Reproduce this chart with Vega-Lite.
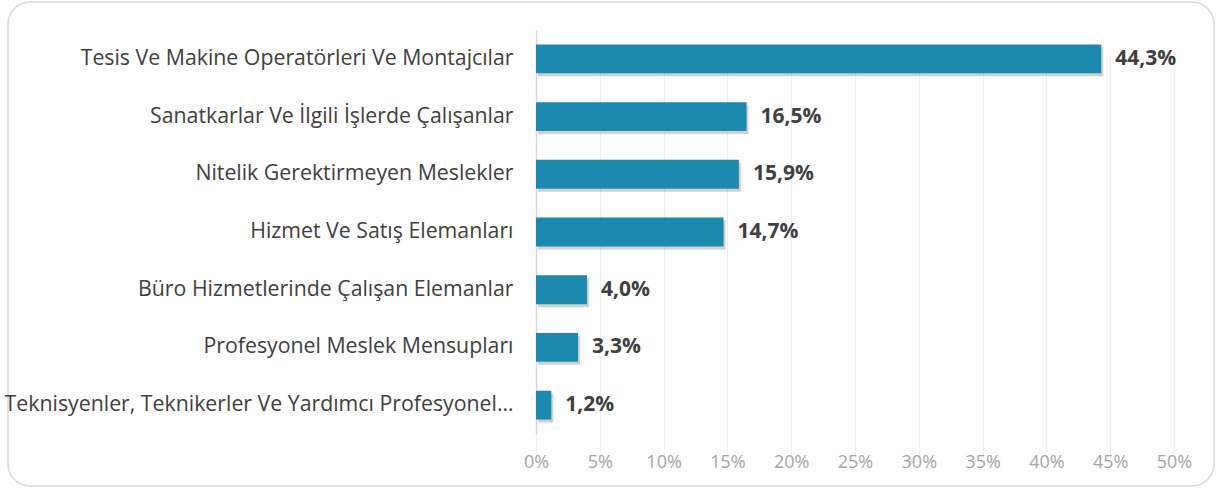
{
  "$schema": "https://vega.github.io/schema/vega-lite/v6.json",
  "width": 1206,
  "height": 484,
  "autosize": {"type": "none"},
  "padding": {"left": 8, "top": 2, "right": 9, "bottom": 2},
  "background": "white",
  "config": {
    "locale": {"number": {"decimal": ",", "thousands": ".", "grouping": [3], "currency": ["", " TL"]}},
    "view": {"stroke": "#d9d9d9", "strokeWidth": 1.5, "cornerRadius": 22},
    "font": "Open Sans"
  },
  "data": {
    "values": [
      {"meslek": "Tesis Ve Makine Operatörleri Ve Montajcılar", "oran": 0.443},
      {"meslek": "Sanatkarlar Ve İlgili İşlerde Çalışanlar", "oran": 0.165},
      {"meslek": "Nitelik Gerektirmeyen Meslekler", "oran": 0.159},
      {"meslek": "Hizmet Ve Satış Elemanları", "oran": 0.147},
      {"meslek": "Büro Hizmetlerinde Çalışan Elemanlar", "oran": 0.040},
      {"meslek": "Profesyonel Meslek Mensupları", "oran": 0.033},
      {"meslek": "Teknisyenler, Teknikerler Ve Yardımcı Profesyonel…", "oran": 0.012}
    ]
  },
  "encoding": {
    "y": {
      "field": "meslek", "type": "nominal", "sort": null,
      "scale": {"range": [28, 432], "paddingInner": 0.5, "paddingOuter": 0.25},
      "axis": {
        "title": null, "offset": -528, "ticks": false, "labelPadding": 23,
        "domainColor": "#d9d9d9", "domainWidth": 1.5,
        "labelFont": "Open Sans", "labelFontSize": 21.3, "labelColor": "#404040", "labelLimit": 600
      }
    },
    "x": {
      "field": "oran", "type": "quantitative",
      "scale": {"domain": [0, 0.5], "range": [528, 1166], "nice": false},
      "axis": {
        "title": null, "format": ".0%", "values": [0, 0.05, 0.1, 0.15, 0.2, 0.25, 0.3, 0.35, 0.4, 0.45, 0.5],
        "offset": -50, "domain": false, "ticks": false, "labelPadding": 17, "labelFlush": false,
        "labelFont": "Open Sans", "labelFontSize": 18, "labelColor": "#a6a6a6",
        "grid": true, "gridColor": "#efefef", "gridWidth": 1.2
      }
    }
  },
  "layer": [
    {"mark": {"type": "bar", "fill": "#000000", "opacity": 0.18, "xOffset": 2, "yOffset": 3}},
    {"mark": {"type": "bar", "fill": "#1b8aae"}},
    {
      "mark": {"type": "text", "align": "left", "baseline": "middle", "dx": 14, "font": "Open Sans", "fontSize": 21, "fontWeight": "bold", "fill": "#404040"},
      "encoding": {"text": {"field": "oran", "type": "quantitative", "format": ".1%"}}
    }
  ]
}
